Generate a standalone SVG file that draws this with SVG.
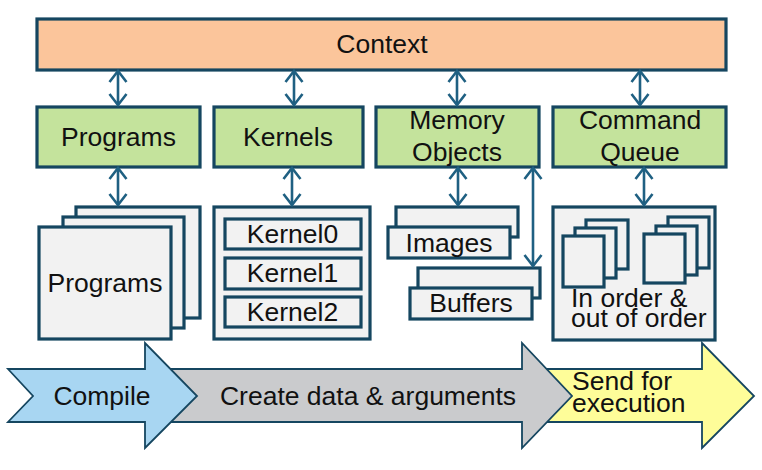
<svg xmlns="http://www.w3.org/2000/svg" width="762" height="470" viewBox="0 0 762 470">
<defs>
<marker id="ah" viewBox="0 -10 20 20" refX="18" refY="0" markerWidth="20" markerHeight="20" markerUnits="userSpaceOnUse" orient="auto-start-reverse">
<path d="M7,-8.5 L18,0 L7,8.5" fill="none" stroke="#1F6082" stroke-width="2.6"/>
</marker>
<style>
.box{stroke:#154660;stroke-width:3.2}
.ctx{fill:#FBC59B}
.grn{fill:#C4E39C}
.gry{fill:#F2F2F2}
.t{font-family:"Liberation Sans",Arial,sans-serif;font-size:26.5px;fill:#111111}
.m{text-anchor:middle}
.conn line{stroke:#1F6082;stroke-width:2.6;marker-start:url(#ah);marker-end:url(#ah)}
.ar{stroke:#154660;stroke-width:1.8;stroke-linejoin:miter}
</style>
</defs>
<rect width="762" height="470" fill="#FFFFFF"/>

<g id="context">
<rect class="box ctx" x="37" y="19" width="689" height="51"/>
<text class="t m" x="382" y="53">Context</text>
</g>

<g id="programs-api">
<rect class="box grn" x="37" y="107" width="163" height="60"/>
<text class="t m" x="118.5" y="146">Programs</text>
</g>
<g id="kernels-api">
<rect class="box grn" x="214" y="107" width="149" height="60"/>
<text class="t m" x="288" y="146">Kernels</text>
</g>
<g id="memory-api">
<rect class="box grn" x="376" y="107" width="163" height="60"/>
<text class="t m" x="457" y="129">Memory</text>
<text class="t m" x="457" y="161">Objects</text>
</g>
<g id="queue-api">
<rect class="box grn" x="553" y="107" width="173" height="60"/>
<text class="t m" x="640" y="129">Command</text>
<text class="t m" x="640" y="161">Queue</text>
</g>

<g id="programs">
<rect class="box gry" x="76" y="207" width="124" height="111"/>
<rect class="box gry" x="63" y="217" width="121" height="111"/>
<rect class="box gry" x="39" y="227" width="132" height="112"/>
<text class="t m" x="105" y="292">Programs</text>
</g>

<g id="kernels">
<rect class="box gry" x="214" y="207" width="156" height="132"/>
<rect class="box gry" x="225" y="219" width="136" height="30"/>
<text class="t m" x="292.5" y="243">Kernel0</text>
<rect class="box gry" x="225" y="258" width="136" height="31"/>
<text class="t m" x="292.5" y="282">Kernel1</text>
<rect class="box gry" x="225" y="297" width="136" height="30"/>
<text class="t m" x="292.5" y="321">Kernel2</text>
</g>

<g id="images">
<rect class="box gry" x="396" y="207" width="122" height="30"/>
<rect class="box gry" x="388" y="227" width="122" height="31"/>
<text class="t m" x="449" y="252">Images</text>
</g>

<g id="buffers">
<rect class="box gry" x="418" y="268" width="122" height="30"/>
<rect class="box gry" x="410" y="288" width="122" height="31"/>
<text class="t m" x="471" y="312">Buffers</text>
</g>

<g id="queues">
<rect class="box gry" x="553" y="207" width="162" height="133"/>
<rect class="box gry" x="586" y="220" width="42" height="49"/>
<rect class="box gry" x="575" y="228" width="41" height="50"/>
<rect class="box gry" x="563" y="236" width="41" height="51"/>
<rect class="box gry" x="668" y="217" width="41" height="51"/>
<rect class="box gry" x="656" y="226" width="41" height="49"/>
<rect class="box gry" x="644" y="234" width="41" height="49"/>
<text class="t" x="571" y="307">In order &amp;</text>
<text class="t" x="571" y="327">out of order</text>
</g>

<g id="connectors" class="conn">
<line x1="118" y1="71" x2="118" y2="105"/>
<line x1="294" y1="71" x2="294" y2="105"/>
<line x1="457" y1="71" x2="457" y2="105"/>
<line x1="640" y1="71" x2="640" y2="105"/>
<line x1="118" y1="168" x2="118" y2="205"/>
<line x1="292" y1="168" x2="292" y2="205"/>
<line x1="458" y1="168" x2="458" y2="205"/>
<line x1="533" y1="168" x2="533" y2="266"/>
<line x1="644" y1="168" x2="644" y2="205"/>
</g>

<g id="send">
<polygon class="ar" fill="#FEFD99" points="540,369 702,369 702,343 754,396 702,448 702,422 540,422 565,396"/>
<text class="t" x="572" y="390">Send for</text>
<text class="t" x="572" y="412">execution</text>
</g>
<g id="create">
<polygon class="ar" fill="#CACBCD" points="150,369 522,369 522,343 572,396 522,448 522,422 150,422 175,396"/>
<text class="t m" x="368" y="405">Create data &amp; arguments</text>
</g>
<g id="compile">
<polygon class="ar" fill="#A8D6F2" points="8,369 145,369 145,343 197,396 145,448 145,422 8,422 33,396"/>
<text class="t m" x="102" y="405">Compile</text>
</g>
</svg>
